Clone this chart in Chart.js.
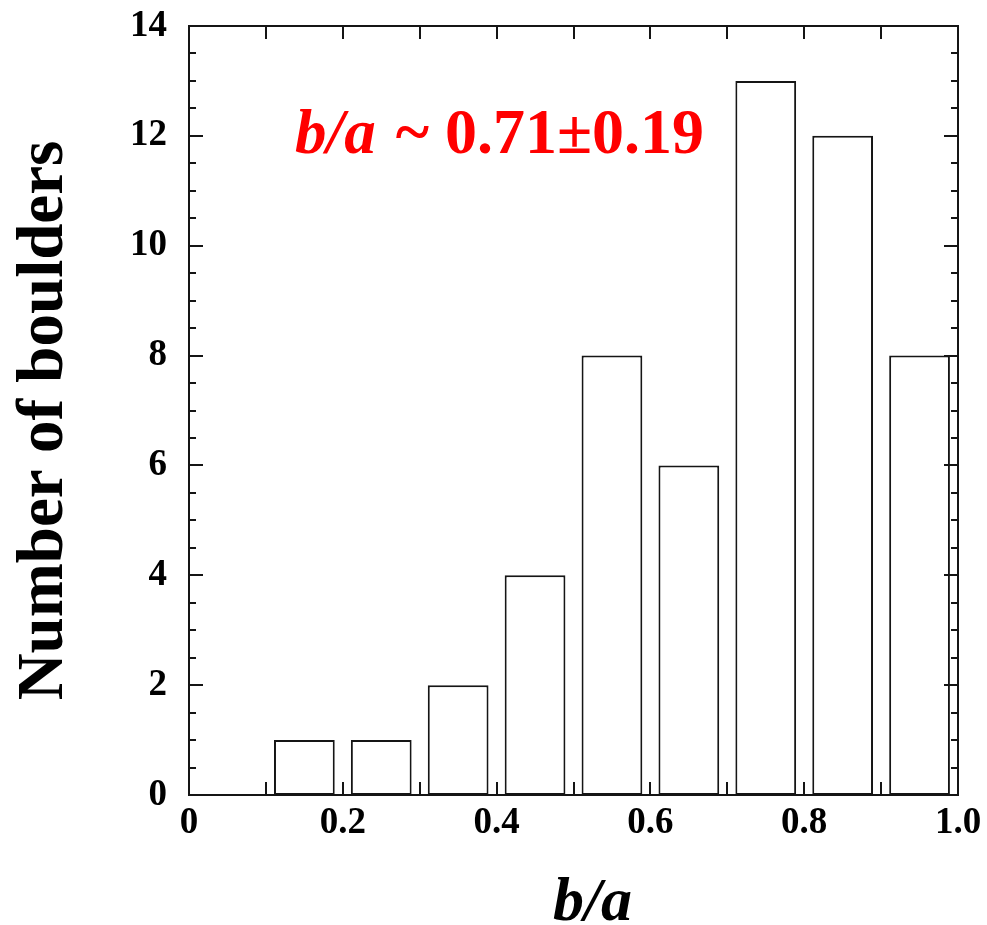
<!DOCTYPE html>
<html>
<head>
<meta charset="utf-8">
<title>Boulder axis ratio histogram</title>
<script src="https://cdn.jsdelivr.net/npm/chart.js@4/dist/chart.umd.min.js"></script>
<style>
  html, body { margin: 0; padding: 0; background: #ffffff; }
  #wrap { width: 987px; height: 925px; }
</style>
</head>
<body>
<div id="wrap"><canvas id="chart" width="987" height="925"></canvas></div>
<script>
// Histogram bins of b/a (lower edge of each 0.1-wide bin) and boulder counts
const binLower = [0.1, 0.2, 0.3, 0.4, 0.5, 0.6, 0.7, 0.8, 0.9];
const boulderCounts = [1, 1, 2, 4, 8, 6, 13, 12, 8];
const binWidth = 0.1;

// Axis tick positions
const xLabelTicks = [0, 0.2, 0.4, 0.6, 0.8, 1.0];
const xTickMarks = [0, 0.1, 0.2, 0.3, 0.4, 0.5, 0.6, 0.7, 0.8, 0.9, 1.0];
const yLabelTicks = [0, 2, 4, 6, 8, 10, 12, 14];
const yTickMarks = [0, 0.5, 1, 1.5, 2, 2.5, 3, 3.5, 4, 4.5, 5, 5.5, 6, 6.5, 7, 7.5,
                    8, 8.5, 9, 9.5, 10, 10.5, 11, 11.5, 12, 12.5, 13, 13.5, 14];

// Summary statistic shown on the plot
const ratioMean = '0.71';
const ratioSpread = '0.19';

const serif = '"Liberation Serif", "Times New Roman", Times, serif';
const ink = '#151515';

const barData = binLower.map((lo, i) => ({ x: lo + binWidth / 2, y: boulderCounts[i] }));

// Frame around the plot with inward ticks on all four sides
const frameTicks = {
  id: 'frameTicks',
  afterDatasetsDraw(chart) {
    const { ctx, chartArea: a, scales: { x, y } } = chart;
    ctx.save();
    ctx.strokeStyle = ink;
    ctx.lineWidth = 2;
    ctx.lineCap = 'butt';
    ctx.beginPath();
    for (const v of xTickMarks) {
      const px = Math.round(x.getPixelForValue(v));
      ctx.moveTo(px, a.bottom); ctx.lineTo(px, a.bottom - 13);
      ctx.moveTo(px, a.top); ctx.lineTo(px, a.top + 13);
    }
    for (const v of yTickMarks) {
      const py = Math.round(y.getPixelForValue(v));
      const len = yLabelTicks.includes(v) ? 14 : 7;
      ctx.moveTo(a.left, py); ctx.lineTo(a.left + len, py);
      ctx.moveTo(a.right, py); ctx.lineTo(a.right - len, py);
    }
    ctx.stroke();
    ctx.strokeRect(a.left, a.top, a.right - a.left, a.bottom - a.top);
    ctx.restore();
  }
};

// Axis titles and the red summary annotation
const textLayer = {
  id: 'textLayer',
  afterDraw(chart) {
    const { ctx, chartArea: a, scales: { x, y } } = chart;
    ctx.save();

    // y title
    ctx.fillStyle = '#000';
    ctx.font = 'bold 65px ' + serif;
    ctx.textAlign = 'center';
    ctx.textBaseline = 'alphabetic';
    ctx.translate(62, (a.top + a.bottom) / 2 + 10);
    ctx.rotate(-Math.PI / 2);
    ctx.fillText('Number of boulders', 0, 0);
    ctx.setTransform(1, 0, 0, 1, 0, 0);

    // x title
    ctx.font = 'italic bold 62px ' + serif;
    ctx.textAlign = 'center';
    ctx.fillText('b/a', (a.left + a.right) / 2 + 19, 920);

    // summary annotation placed in data coordinates
    const ax = x.getPixelForValue(0.138);
    const ay = y.getPixelForValue(11.69);
    ctx.fillStyle = '#ff0000';
    ctx.textAlign = 'left';
    ctx.font = 'italic bold 63px ' + serif;
    const head = 'b/a';
    ctx.fillText(head, ax, ay);
    const w = ctx.measureText(head).width;
    ctx.font = 'bold 64px ' + serif;
    ctx.fillText(' ~ ' + ratioMean + '\u00B1' + ratioSpread, ax + w + 4, ay);
    ctx.restore();
  }
};

new Chart(document.getElementById('chart'), {
  type: 'bar',
  data: {
    datasets: [{
      label: 'Number of boulders',
      data: barData,
      backgroundColor: '#ffffff',
      borderColor: ink,
      borderWidth: 2,
      borderSkipped: false,
      barPercentage: 0.79,
      categoryPercentage: 1.0
    }]
  },
  options: {
    responsive: false,
    animation: false,
    devicePixelRatio: 1,
    layout: { padding: { top: 26, right: 29, left: 0, bottom: 0 } },
    plugins: {
      legend: { display: false },
      tooltip: { enabled: false }
    },
    scales: {
      x: {
        type: 'linear',
        offset: false,
        min: 0,
        max: 1,
        afterFit: s => { s.height = 130; s.paddingLeft = 0; s.paddingRight = 0; },
        afterBuildTicks: s => { s.ticks = xLabelTicks.map(v => ({ value: v })); },
        grid: { display: false, drawTicks: false, offset: false },
        border: { display: false },
        ticks: {
          padding: 6,
          color: '#000',
          font: { family: serif, size: 37, weight: 'bold' },
          maxRotation: 0,
          callback: v => (v === 0 ? '0' : v.toFixed(1))
        }
      },
      y: {
        min: 0,
        max: 14,
        afterFit: s => { s.width = 189; s.paddingTop = 0; s.paddingBottom = 0; },
        afterBuildTicks: s => { s.ticks = yLabelTicks.map(v => ({ value: v })); },
        grid: { display: false, drawTicks: false },
        border: { display: false },
        ticks: {
          padding: 22,
          color: '#000',
          font: { family: serif, size: 37, weight: 'bold' },
          callback: v => String(v)
        }
      }
    }
  },
  plugins: [frameTicks, textLayer]
});
</script>
</body>
</html>
